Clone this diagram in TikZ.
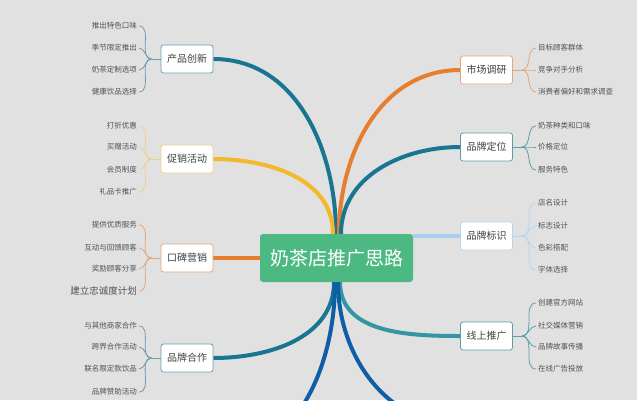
\documentclass[tikz,border=0pt]{standalone}
\usepackage{fontspec}
\setmainfont{Noto Sans CJK SC}
\usetikzlibrary{positioning}

\definecolor{paper}{HTML}{E1E1E1}
\definecolor{rootgreen}{HTML}{4DB982}
\definecolor{tealdark}{HTML}{1A7592}
\definecolor{sunyellow}{HTML}{F3B82C}
\definecolor{carrot}{HTML}{E67E2E}
\definecolor{skyblue}{HTML}{A9CDF2}
\definecolor{seateal}{HTML}{3396A3}
\definecolor{deepblue}{HTML}{0E5DA6}
\definecolor{tealtwig}{HTML}{6C9DB3}
\definecolor{yellowtwig}{HTML}{EFD08F}
\definecolor{orangetwig}{HTML}{E5A678}
\definecolor{bluetwig}{HTML}{B7D5F0}
\definecolor{seatwig}{HTML}{5A9FA8}

\pgfdeclarelayer{bg}
\pgfsetlayers{bg,main}

\tikzset{
  root/.style={fill=rootgreen, rounded corners=3pt, minimum width=153pt,
    minimum height=48pt, text=white, font=\fontsize{19}{22}\selectfont},
  topic/.style={draw=#1, fill=white, rounded corners=2.5pt, line width=0.8pt,
    minimum width=52pt, minimum height=28pt, text=black!75,
    font=\fontsize{10}{12}\selectfont},
  leaf/.style={text=black!68, inner sep=2pt, font=\fontsize{7.5}{9}\selectfont},
  branch/.style={draw=#1, line width=4pt},
  twig/.style={draw=#1, line width=0.8pt}
}

\begin{document}
\begin{tikzpicture}[x=1pt,y=-1pt]
  \useasboundingbox (0,0) rectangle (637,400);

  \node[root] (root) at (336.5,258) {奶茶店推广思路};
  \coordinate (hubtop) at (336,234);
  \coordinate (hubbot) at (336,282);

  % left side
  \node[topic=tealtwig] (cpcx) at (187,59) {产品创新};
  \node[topic=yellowtwig] (cxhd) at (187,159) {促销活动};
  \node[topic=orangetwig] (kbyx) at (187,258) {口碑营销};
  \node[topic=tealtwig] (pphz) at (187,358) {品牌合作};

  % right side
  \node[topic=orangetwig] (scdy) at (486.5,70) {市场调研};
  \node[topic=seatwig] (ppdw) at (486.5,147) {品牌定位};
  \node[topic=bluetwig] (ppbs) at (486.5,236) {品牌标识};
  \node[topic=seatwig] (xstg) at (486.5,336) {线上推广};

  % leaves of the left topics
  \node[leaf, anchor=east] (cpcx1) at (139,26) {推出特色口味};
  \node[leaf, anchor=east] (cpcx2) at (139,48) {季节限定推出};
  \node[leaf, anchor=east] (cpcx3) at (139,70) {奶茶定制选项};
  \node[leaf, anchor=east] (cpcx4) at (139,92) {健康饮品选择};

  \node[leaf, anchor=east] (cxhd1) at (139,126) {打折优惠};
  \node[leaf, anchor=east] (cxhd2) at (139,147) {买赠活动};
  \node[leaf, anchor=east] (cxhd3) at (139,170) {会员制度};
  \node[leaf, anchor=east] (cxhd4) at (139,192) {礼品卡推广};

  \node[leaf, anchor=east] (kbyx1) at (139,225) {提供优质服务};
  \node[leaf, anchor=east] (kbyx2) at (139,248) {互动与回馈顾客};
  \node[leaf, anchor=east] (kbyx3) at (139,269) {奖励顾客分享};
  \node[leaf, anchor=east, font=\fontsize{9.5}{11}\selectfont] (kbyx4) at (139,291) {建立忠诚度计划};

  \node[leaf, anchor=east] (pphz1) at (139,326) {与其他商家合作};
  \node[leaf, anchor=east] (pphz2) at (139,347) {跨界合作活动};
  \node[leaf, anchor=east] (pphz3) at (139,369) {联名限定款饮品};
  \node[leaf, anchor=east] (pphz4) at (139,392) {品牌赞助活动};

  % leaves of the right topics
  \node[leaf, anchor=west] (scdy1) at (536,48) {目标顾客群体};
  \node[leaf, anchor=west] (scdy2) at (536,70) {竞争对手分析};
  \node[leaf, anchor=west] (scdy3) at (536,92) {消费者偏好和需求调查};

  \node[leaf, anchor=west] (ppdw1) at (536,126) {奶茶种类和口味};
  \node[leaf, anchor=west] (ppdw2) at (536,147) {价格定位};
  \node[leaf, anchor=west] (ppdw3) at (536,170) {服务特色};

  \node[leaf, anchor=west] (ppbs1) at (536,203) {店名设计};
  \node[leaf, anchor=west] (ppbs2) at (536,226) {标志设计};
  \node[leaf, anchor=west] (ppbs3) at (536,248) {色彩搭配};
  \node[leaf, anchor=west] (ppbs4) at (536,270) {字体选择};

  \node[leaf, anchor=west] (xstg1) at (536,303) {创建官方网站};
  \node[leaf, anchor=west] (xstg2) at (536,326) {社交媒体营销};
  \node[leaf, anchor=west] (xstg3) at (536,347) {品牌故事传播};
  \node[leaf, anchor=west] (xstg4) at (536,369) {在线广告投放};

  \coordinate (downleft) at (213,458);
  \coordinate (downright) at (460,425);

  \begin{pgfonlayer}{bg}
    \fill[paper] (0,0) rectangle (637,400);

    % main branches
    \draw[branch=tealdark] (cpcx.east) to[out=0,in=90] (hubtop);
    \draw[branch=sunyellow] (cxhd.east) to[out=0,in=90] ([xshift=-3pt]hubtop);
    \draw[branch=carrot] (kbyx.east) -- (kbyx.east -| root.west);
    \draw[branch=tealdark] (pphz.east) to[out=0,in=-90] ([xshift=-2pt]hubbot);
    \draw[branch=carrot] (scdy.west) to[out=180,in=90] ([xshift=3pt]hubtop);
    \draw[branch=tealdark] (ppdw.west) to[out=180,in=90] ([xshift=5pt]hubtop);
    \draw[branch=skyblue] (ppbs.west) -- (ppbs.west -| root.east);
    \draw[branch=seateal] (xstg.west) to[out=180,in=-90] ([xshift=4pt]hubbot);
    \draw[branch=deepblue] (downleft) to[out=0,in=-90] ([xshift=-1pt]hubbot);
    \draw[branch=deepblue] (downright) to[out=180,in=-90] ([xshift=2pt]hubbot);

    % twigs to the leaves
    \draw[twig=tealtwig] (cpcx.west) -- ++(-9,0) coordinate (cpcxj);
    \foreach \k in {1,...,4} \draw[twig=tealtwig] (cpcxj) to[out=180,in=0] (cpcx\k.east);
    \draw[twig=yellowtwig] (cxhd.west) -- ++(-9,0) coordinate (cxhdj);
    \foreach \k in {1,...,4} \draw[twig=yellowtwig] (cxhdj) to[out=180,in=0] (cxhd\k.east);
    \draw[twig=orangetwig] (kbyx.west) -- ++(-9,0) coordinate (kbyxj);
    \foreach \k in {1,...,4} \draw[twig=orangetwig] (kbyxj) to[out=180,in=0] (kbyx\k.east);
    \draw[twig=tealtwig] (pphz.west) -- ++(-9,0) coordinate (pphzj);
    \foreach \k in {1,...,4} \draw[twig=tealtwig] (pphzj) to[out=180,in=0] (pphz\k.east);

    \draw[twig=orangetwig] (scdy.east) -- ++(9,0) coordinate (scdyj);
    \foreach \k in {1,...,3} \draw[twig=orangetwig] (scdyj) to[out=0,in=180] (scdy\k.west);
    \draw[twig=seatwig] (ppdw.east) -- ++(9,0) coordinate (ppdwj);
    \foreach \k in {1,...,3} \draw[twig=seatwig] (ppdwj) to[out=0,in=180] (ppdw\k.west);
    \draw[twig=bluetwig] (ppbs.east) -- ++(9,0) coordinate (ppbsj);
    \foreach \k in {1,...,4} \draw[twig=bluetwig] (ppbsj) to[out=0,in=180] (ppbs\k.west);
    \draw[twig=seatwig] (xstg.east) -- ++(9,0) coordinate (xstgj);
    \foreach \k in {1,...,4} \draw[twig=seatwig] (xstgj) to[out=0,in=180] (xstg\k.west);
  \end{pgfonlayer}
\end{tikzpicture}
\end{document}
